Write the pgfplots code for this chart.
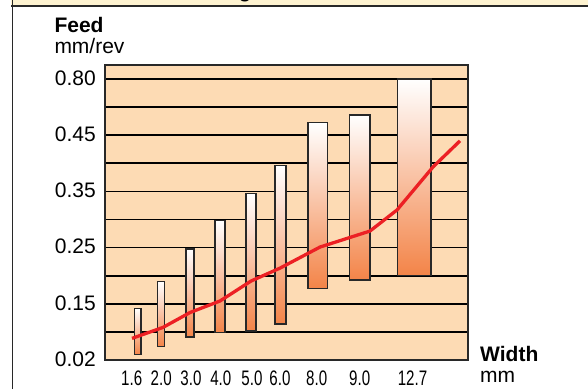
\documentclass[border=0pt]{standalone}
\usepackage{fontspec}
\setmainfont{Liberation Sans}
\newfontfamily\narrowfont[FakeStretch=0.72]{Liberation Sans}
\usepackage{pgfplots}
\pgfplotsset{compat=1.18}
\definecolor{peach}{RGB}{253,219,180}
\definecolor{barorange}{RGB}{243,132,72}
\definecolor{linered}{RGB}{236,32,36}
\definecolor{band}{RGB}{254,243,208}
\definecolor{framec}{RGB}{40,40,40}
\begin{document}
\begin{tikzpicture}[x=1pt,y=1pt]
\fill[band] (11,383.3) rectangle (588,389);
\draw[framec, line width=2pt] (11,383.3) -- (588,383.3);
\draw[framec, line width=1.6pt] (12.5,0) -- (12.5,389);
\begin{scope}
\clip (13,384.4) rectangle (588,389);
\node[anchor=base, inner sep=0pt, font=\bfseries\fontsize{21}{25}\selectfont] at (245,391.5) {g};
\end{scope}
\node[anchor=base west, inner sep=0pt, font=\bfseries\fontsize{21}{25}\selectfont] at (54.3,356.7) {Feed};
\node[anchor=base west, inner sep=0pt, font=\fontsize{21}{25}\selectfont] at (54.3,335.7) {mm/rev};
\node[anchor=base west, inner sep=0pt, font=\bfseries\fontsize{21}{25}\selectfont] at (480,27.3) {Width};
\node[anchor=base west, inner sep=0pt, font=\fontsize{21}{25}\selectfont] at (480,6.5) {mm};
\begin{axis}[
  at={(105pt,29pt)}, anchor=south west,
  width=363pt, height=295pt, scale only axis,
  xmin=105, xmax=468, ymin=0, ymax=10.5,
  axis background/.style={fill=peach},
  axis line style={framec, line width=1.6pt},
  ytick={0,1,2,3,4,5,6,7,8,9,10},
  yticklabels={0.02,,0.15,,0.25,,0.35,,0.45,,0.80},
  ymajorgrids, major grid style={black, line width=1.7pt},
  major tick length=0pt,
  xtick={131.7,161.2,191,220.8,252,280,316.7,359.7,412.5},
  xticklabels={1.6,2.0,3.0,4.0,5.0,6.0,8.0,9.0,12.7},
  xticklabel style={anchor=base, inner sep=0pt, yshift=-25pt, font=\narrowfont\fontsize{21}{25}\selectfont},
  yticklabel style={anchor=east, inner sep=0pt, xshift=-9pt, yshift=1pt, font=\fontsize{21}{25}\selectfont},
  clip=false,
]
\pgfplotsset{barstyle/.style={draw=framec, line width=1.6pt, top color=white, bottom color=barorange}}
\addplot[barstyle] coordinates {(134.5,0.20) (140.9,0.20) (140.9,1.83) (134.5,1.83)} --cycle;
\addplot[barstyle] coordinates {(157.5,0.48) (164.5,0.48) (164.5,2.79) (157.5,2.79)} --cycle;
\addplot[barstyle] coordinates {(185.8,0.81) (194.2,0.81) (194.2,3.95) (185.8,3.95)} --cycle;
\addplot[barstyle] coordinates {(214.8,0.98) (224.9,0.98) (224.9,4.96) (214.8,4.96)} --cycle;
\addplot[barstyle] coordinates {(245.8,1.03) (255.9,1.03) (255.9,5.93) (245.8,5.93)} --cycle;
\addplot[barstyle] coordinates {(274.8,1.29) (285.9,1.29) (285.9,6.92) (274.8,6.92)} --cycle;
\addplot[barstyle] coordinates {(308.1,2.54) (327.5,2.54) (327.5,8.45) (308.1,8.45)} --cycle;
\addplot[barstyle] coordinates {(349.5,2.84) (369.9,2.84) (369.9,8.73) (349.5,8.73)} --cycle;
\addplot[barstyle] coordinates {(397.5,3.01) (431.2,3.01) (431.2,10.0) (397.5,10.0)} --cycle;
\addplot[linered, line width=3.3pt, line join=round] coordinates {
(132,0.77) (163,1.16) (190,1.69) (220,2.10) (251,2.81) (280,3.27) (320,4.02) (370,4.59) (397,5.34) (433,6.87) (460,7.80)};
\end{axis}
\pgfresetboundingbox
\useasboundingbox (0,0) rectangle (588,389);
\end{tikzpicture}
\end{document}
